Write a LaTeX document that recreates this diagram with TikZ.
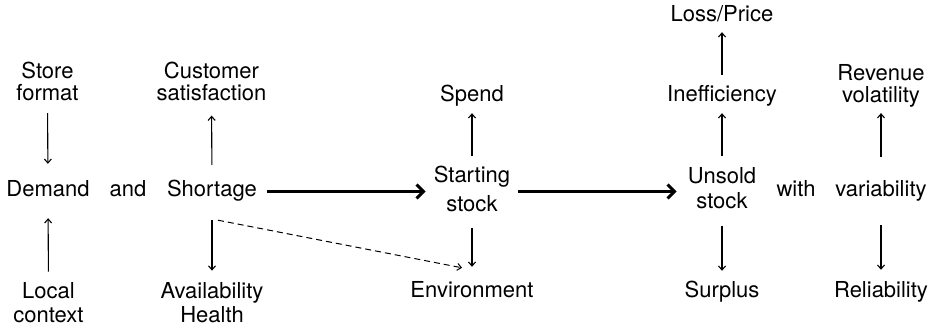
\documentclass[tikz,border=0pt]{standalone}
\usepackage{fontspec}
\setmainfont{TeX Gyre Heros}
\usetikzlibrary{arrows.meta}

\tikzset{
  lbl/.style={inner sep=0pt, anchor=base, text height=16pt, text depth=5pt, font=\fontsize{22}{22}\selectfont},
  lbl2/.style={inner sep=0pt, align=center, font=\fontsize{22}{22}\selectfont},
  arr/.style={line width=1.1pt, -{Straight Barb[length=4pt,width=7pt]}},
  bigarr/.style={line width=3pt, -{Straight Barb[length=7pt,width=14pt]}},
  dasharr/.style={line width=1pt, dash pattern=on 6pt off 4pt, -{Straight Barb[length=4pt,width=7pt]}}
}

\begin{document}
\begin{tikzpicture}[x=1pt,y=-1pt]
\useasboundingbox (0,0) rectangle (933,328);
%left block
    \node[lbl2] (store) at (47.5,81.5) {Store\\format};
    \node[lbl2] (custsat) at (211.5,81) {Customer\\satisfaction};
    \node[lbl] (demand) at (48,197) {Demand};
    \node[lbl] (and) at (128,197) {and};
    \node[lbl] (shortage) at (212,197) {Shortage};
    \node[lbl2] (local) at (48.5,303) {Local\\[2pt]context};
    \node[lbl2] (avail) at (212,303) {Availability\\[2pt]Health};
%middle block
    \node[lbl] (spend) at (472,102) {Spend};
    \node[lbl2] (start) at (472,188.5) {Starting\\[7pt]stock};
    \node[lbl] (env) at (472,298) {Environment};
%right block
    \node[lbl] (loss) at (722,22) {Loss/Price};
    \node[lbl] (ineff) at (722,102) {Inefficiency};
    \node[lbl2] (unsold) at (722,188) {Unsold\\[3pt]stock};
    \node[lbl] (with) at (796,197) {with};
    \node[lbl] (var) at (881,197) {variability};
    \node[lbl2] (revvol) at (881,85.5) {Revenue\\volatility};
    \node[lbl] (surplus) at (722,298) {Surplus};
    \node[lbl] (relia) at (881,298) {Reliability};

%thin arrows
    \draw[arr, shorten <=12pt, shorten >=17pt] (store.south) -- (demand.north);
    \draw[arr, shorten <=11pt, shorten >=16pt] (local.north) -- (demand.south);
    \draw[arr, shorten <=16pt, shorten >=15pt] (shortage.north) -- (custsat.south);
    \draw[arr, shorten <=18pt, shorten >=12pt] (shortage.south) -- (avail.north);
    \draw[arr, shorten <=9pt, shorten >=6pt] (start.north) -- (spend.south);
    \draw[arr, shorten <=16pt, shorten >=15pt] (start.south) -- (env.north);
    \draw[arr, shorten <=11pt, shorten >=6pt] (unsold.north) -- (ineff.south);
    \draw[arr, shorten <=11pt, shorten >=5pt] (ineff.north) -- (loss.south);
    \draw[arr, shorten <=17pt, shorten >=11pt] (unsold.south) -- (surplus.north);
    \draw[arr, shorten <=24pt, shorten >=6pt] (var.north) -- (revvol.south);
    \draw[arr, shorten <=23pt, shorten >=12pt] (var.south) -- (relia.north);

%thick arrows
    \draw[bigarr, shorten <=10pt, shorten >=8pt] (shortage.east) -- (shortage.east -| start.west);
    \draw[bigarr, shorten <=8pt, shorten >=11pt] (shortage.east -| start.east) -- (shortage.east -| unsold.west);

%dashed link
    \draw[dasharr] ([xshift=6pt,yshift=-18pt]shortage.south) -- ([xshift=-10pt,yshift=14pt]env.north);
\end{tikzpicture}
\end{document}
